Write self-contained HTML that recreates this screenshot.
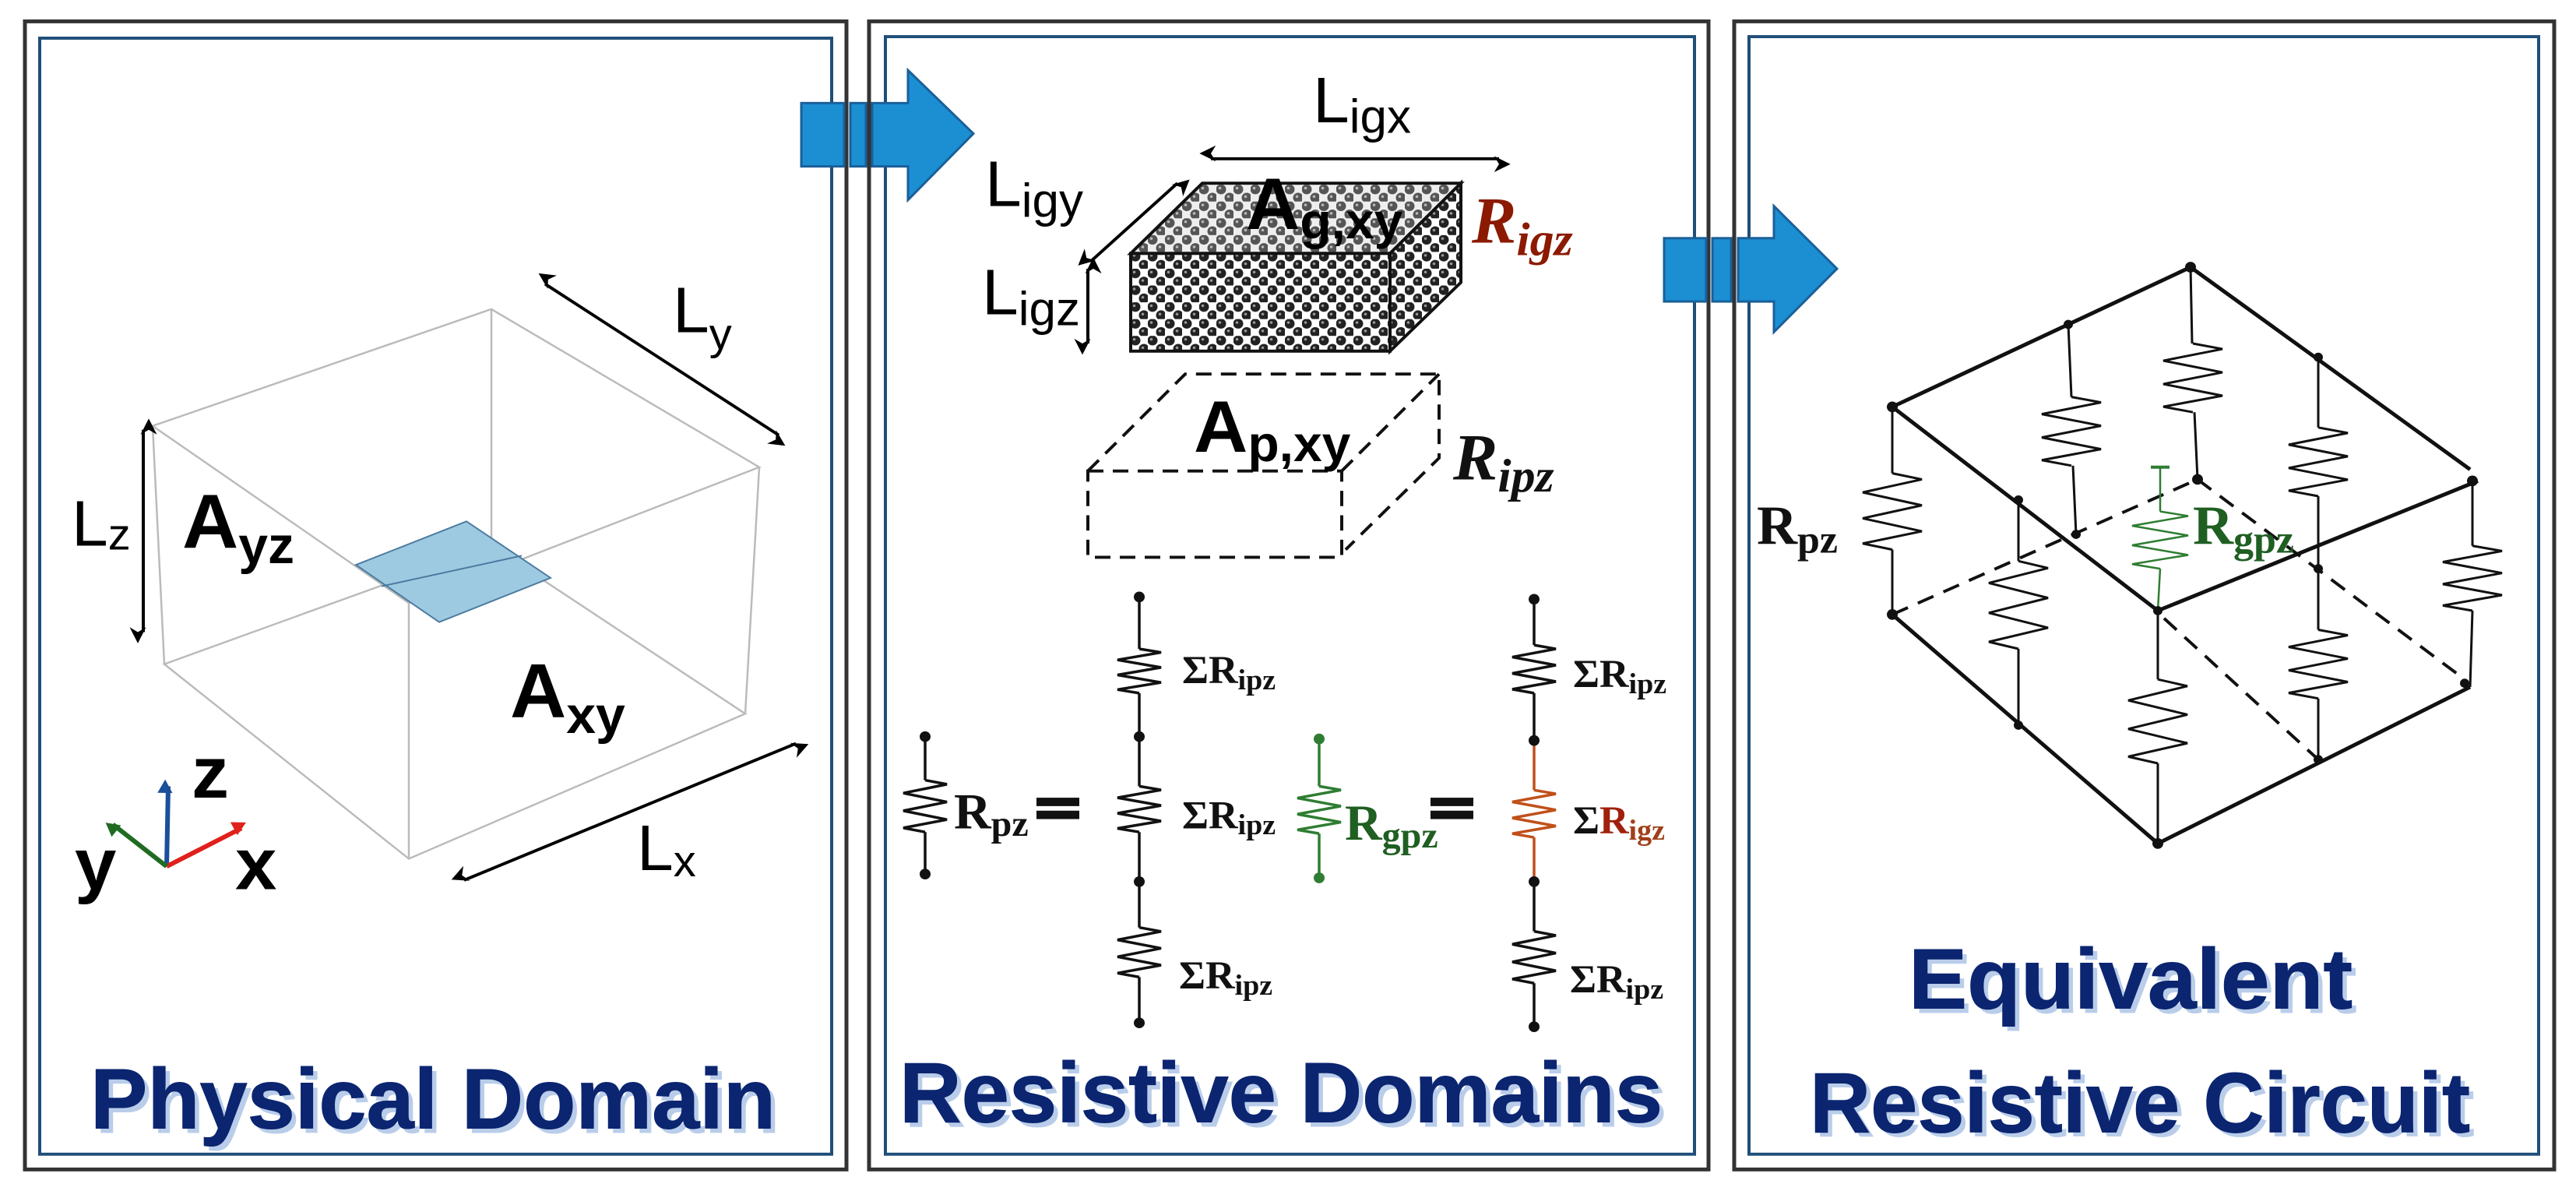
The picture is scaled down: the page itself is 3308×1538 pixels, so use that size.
<!DOCTYPE html>
<html><head><meta charset="utf-8"><style>
html,body{margin:0;padding:0;background:#fff}
svg{display:block}
.t{font-family:"Liberation Sans",sans-serif;font-weight:bold;fill:#0b2570;stroke:#0b2570;stroke-width:1}
.ts{font-family:"Liberation Sans",sans-serif;font-weight:bold;fill:#b9cdea}
.s{font-family:"Liberation Sans",sans-serif}
.sf{font-family:"Liberation Serif",serif;font-weight:bold}
</style></head><body>
<svg width="3308" height="1538" viewBox="0 0 3308 1538" xmlns="http://www.w3.org/2000/svg">
<defs>
<path id="zz" d="M0,0 L1,0.08 L-1,0.25 L1,0.42 L-1,0.59 L1,0.76 L-1,0.92 L0,1" fill="none" vector-effect="non-scaling-stroke"/>
<marker id="ah" viewBox="0 0 10 10" refX="9" refY="5" markerWidth="7" markerHeight="7" orient="auto-start-reverse" markerUnits="userSpaceOnUse" style="overflow:visible"><path d="M0,0 L10,5 L0,10 L3,5z" fill="#000" transform="scale(3)"/></marker>
<marker id="ab" viewBox="0 0 10 10" refX="5" refY="5" markerWidth="8" markerHeight="8" orient="auto" markerUnits="userSpaceOnUse" style="overflow:visible"><path d="M-6,-12 L16,0 L-6,12z" fill="#1a4f9a"/></marker>
<marker id="ar" viewBox="0 0 10 10" refX="5" refY="5" markerWidth="8" markerHeight="8" orient="auto" markerUnits="userSpaceOnUse" style="overflow:visible"><path d="M-6,-12 L16,0 L-6,12z" fill="#e0201b"/></marker>
<marker id="ag" viewBox="0 0 10 10" refX="5" refY="5" markerWidth="8" markerHeight="8" orient="auto" markerUnits="userSpaceOnUse" style="overflow:visible"><path d="M-6,-12 L16,0 L-6,12z" fill="#1f6b22"/></marker>
<pattern id="grav" width="22" height="22" patternUnits="userSpaceOnUse">
<rect width="22" height="22" fill="#fff"/>
<circle cx="6" cy="6" r="6.5" fill="#222"/><circle cx="17" cy="17" r="6.5" fill="#222"/>
<circle cx="4.5" cy="4.5" r="1.8" fill="#999"/><circle cx="15.5" cy="15.5" r="1.8" fill="#999"/>
</pattern>
<pattern id="grav2" width="22" height="22" patternUnits="userSpaceOnUse">
<rect width="22" height="22" fill="#eee"/>
<circle cx="6" cy="6" r="6.5" fill="#555"/><circle cx="17" cy="17" r="6.5" fill="#555"/>
<circle cx="4.5" cy="4.5" r="1.8" fill="#bbb"/><circle cx="15.5" cy="15.5" r="1.8" fill="#bbb"/>
</pattern>
</defs>
<g transform="scale(1,0.98)">
<!-- panels -->
<g fill="none">
<rect x="32" y="28" width="1055" height="1504" stroke="#333" stroke-width="5"/>
<rect x="51" y="50" width="1017" height="1462" stroke="#1f4e79" stroke-width="4"/>
<rect x="1116" y="28" width="1078" height="1504" stroke="#333" stroke-width="5"/>
<rect x="1137" y="48" width="1039" height="1464" stroke="#1f4e79" stroke-width="4"/>
<rect x="2227" y="28" width="1053" height="1504" stroke="#333" stroke-width="5"/>
<rect x="2246" y="48" width="1014" height="1464" stroke="#1f4e79" stroke-width="4"/>
</g>
<!-- block arrows -->
<g fill="#1b8fd2" stroke="#1a5f99" stroke-width="3">
<rect x="1029" y="135" width="55" height="83"/>
<rect x="1092" y="135" width="20" height="83"/>
<path d="M1120,135 L1166,135 L1166,92 L1250,175 L1166,262 L1166,218 L1120,218z"/>
<rect x="2137" y="312" width="54" height="83"/>
<rect x="2199" y="312" width="24" height="83"/>
<path d="M2232,312 L2278,312 L2278,270 L2359,352 L2278,435 L2278,395 L2232,395z"/>
</g>

<!-- PANEL 1 -->
<g stroke="#bbb" stroke-width="2.5" fill="none">
<path d="M196,558 L631,405 L975,612 L525,790 Z"/>
<path d="M211,870 L631,715 L957,935 L525,1125 Z"/>
<path d="M196,558 L211,870 M631,405 L631,715 M975,612 L957,935 M525,790 L525,1125"/>
</g>
<path d="M457,740 L599,683 L707,757 L564,815 Z" fill="#9ecae1" stroke="#4a7aa0" stroke-width="2"/>
<path d="M490,768 L670,728" stroke="#4a7aa0" stroke-width="2"/>
<g stroke="#000" stroke-width="4" fill="none" marker-start="url(#ah)" marker-end="url(#ah)">
<line x1="700" y1="372" x2="1000" y2="570"/>
<line x1="184" y1="563" x2="184" y2="828"/>
<line x1="596" y1="1153" x2="1022" y2="974"/>
</g>
<text class="s" x="864" y="435" font-size="84">L<tspan font-size="58" dy="22">y</tspan></text>
<text class="s" x="92" y="715" font-size="84">L<tspan font-size="58" dy="5">z</tspan></text>
<text class="s" x="234" y="718" font-size="100" font-weight="bold">A<tspan font-size="68" dy="20">yz</tspan></text>
<text class="s" x="655" y="940" font-size="100" font-weight="bold">A<tspan font-size="68" dy="20">xy</tspan></text>
<text class="s" x="818" y="1140" font-size="84">L<tspan font-size="58" dy="8">x</tspan></text>
<g stroke-width="6" fill="none">
<line x1="214" y1="1135" x2="216" y2="1030" stroke="#1a4f9a" marker-end="url(#ab)"/>
<line x1="214" y1="1135" x2="310" y2="1085" stroke="#e0201b" marker-end="url(#ar)"/>
<line x1="214" y1="1135" x2="145" y2="1080" stroke="#1f6b22" marker-end="url(#ag)"/>
</g>
<text class="s" x="246" y="1045" font-size="96" font-weight="bold">z</text>
<text class="s" x="302" y="1165" font-size="96" font-weight="bold">x</text>
<text class="s" x="96" y="1165" font-size="96" font-weight="bold">y</text>
<text class="ts" x="122" y="1484" font-size="112" textLength="880" lengthAdjust="spacingAndGlyphs">Physical Domain</text>
<text class="t" x="116" y="1478" font-size="112" textLength="880" lengthAdjust="spacingAndGlyphs">Physical Domain</text>

<!-- PANEL 2 -->
<line x1="1555" y1="208" x2="1925" y2="208" stroke="#000" stroke-width="4" marker-start="url(#ah)" marker-end="url(#ah)"/>
<line x1="1400" y1="343" x2="1512" y2="240" stroke="#000" stroke-width="4" marker-start="url(#ah)" marker-end="url(#ah)"/>
<line x1="1397" y1="352" x2="1397" y2="450" stroke="#000" stroke-width="4" marker-start="url(#ah)" marker-end="url(#ah)"/>
<text class="s" x="1686" y="160" font-size="84">L<tspan font-size="62" dy="14">igx</tspan></text>
<text class="s" x="1265" y="270" font-size="84">L<tspan font-size="62" dy="14">igy</tspan></text>
<text class="s" x="1261" y="412" font-size="84">L<tspan font-size="62" dy="14">igz</tspan></text>
<path d="M1452,332 L1544,240 L1876,240 L1785,332 Z" fill="url(#grav2)" stroke="#111" stroke-width="4"/>
<path d="M1785,332 L1876,240 L1876,370 L1785,460 Z" fill="url(#grav)" stroke="#111" stroke-width="4"/>
<rect x="1452" y="332" width="333" height="128" fill="url(#grav)" stroke="#111" stroke-width="4"/>
<text class="s" x="1600" y="300" font-size="96" font-weight="bold">A<tspan font-size="66" dy="12">g,xy</tspan></text>
<text class="sf" x="1890" y="318" font-size="86" font-style="italic" fill="#8b1a00">R<tspan font-size="62" dy="16">igz</tspan></text>
<g stroke="#111" stroke-width="4" fill="none" stroke-dasharray="20,12">
<path d="M1397,617 L1522,490 L1848,490 L1848,600 L1728,720"/>
<rect x="1397" y="617" width="326" height="113"/>
<path d="M1723,617 L1848,490"/>
</g>
<text class="s" x="1533" y="592" font-size="96" font-weight="bold">A<tspan font-size="66" dy="12">p,xy</tspan></text>
<text class="sf" x="1866" y="628" font-size="86" font-style="italic" fill="#111">R<tspan font-size="62" dy="16">ipz</tspan></text>

<g stroke="#111" stroke-width="3.5" fill="none">
<!-- Rpz -->
<line x1="1188" y1="965" x2="1188" y2="1022"/><use href="#zz" transform="translate(1188,1022) scale(28,68)"/><line x1="1188" y1="1090" x2="1188" y2="1145"/>
<!-- col1 -->
<line x1="1463" y1="782" x2="1463" y2="850"/><use href="#zz" transform="translate(1463,850) scale(28,58)"/><line x1="1463" y1="908" x2="1463" y2="1030"/>
<use href="#zz" transform="translate(1463,1030) scale(28,60)"/><line x1="1463" y1="1090" x2="1463" y2="1215"/>
<use href="#zz" transform="translate(1463,1215) scale(28,65)"/><line x1="1463" y1="1280" x2="1463" y2="1340"/>
<!-- col2 -->
<line x1="1970" y1="785" x2="1970" y2="845"/><use href="#zz" transform="translate(1970,845) scale(28,63)"/><line x1="1970" y1="908" x2="1970" y2="970"/>
<line x1="1970" y1="1155" x2="1970" y2="1220"/><use href="#zz" transform="translate(1970,1220) scale(28,68)"/><line x1="1970" y1="1288" x2="1970" y2="1345"/>
</g>
<g stroke="#2e7d32" stroke-width="3.5" fill="none">
<line x1="1694" y1="968" x2="1694" y2="1030"/><use href="#zz" transform="translate(1694,1030) scale(28,62)"/><line x1="1694" y1="1092" x2="1694" y2="1150"/>
</g>
<g stroke="#c0501a" stroke-width="3.5" fill="none">
<line x1="1970" y1="970" x2="1970" y2="1035"/><use href="#zz" transform="translate(1970,1035) scale(28,62)"/><line x1="1970" y1="1097" x2="1970" y2="1155"/>
</g>
<g fill="#111">
<circle cx="1188" cy="965" r="7"/><circle cx="1188" cy="1145" r="7"/>
<circle cx="1463" cy="782" r="7"/><circle cx="1463" cy="965" r="7"/><circle cx="1463" cy="1155" r="7"/><circle cx="1463" cy="1340" r="7"/>
<circle cx="1970" cy="785" r="7"/><circle cx="1970" cy="970" r="7"/><circle cx="1970" cy="1155" r="7"/><circle cx="1970" cy="1345" r="7"/>
<circle cx="1694" cy="968" r="7" fill="#2e7d32"/><circle cx="1694" cy="1150" r="7" fill="#2e7d32"/>
</g>
<rect x="1331" y="1045" width="55" height="11" fill="#111"/><rect x="1331" y="1062" width="55" height="11" fill="#111"/>
<rect x="1837" y="1045" width="55" height="11" fill="#111"/><rect x="1837" y="1062" width="55" height="11" fill="#111"/>
<text class="sf" x="1225" y="1085" font-size="66" fill="#111">R<tspan font-size="48" dy="10">pz</tspan></text>
<text class="sf" x="1727" y="1100" font-size="66" fill="#1f5f22">R<tspan font-size="48" dy="10">gpz</tspan></text>
<text class="sf" x="1518" y="895" font-size="52" fill="#111">ΣR<tspan font-size="38" dy="8">ipz</tspan></text>
<text class="sf" x="1518" y="1085" font-size="52" fill="#111">ΣR<tspan font-size="38" dy="8">ipz</tspan></text>
<text class="sf" x="1514" y="1295" font-size="52" fill="#111">ΣR<tspan font-size="38" dy="8">ipz</tspan></text>
<text class="sf" x="2020" y="900" font-size="52" fill="#111">ΣR<tspan font-size="38" dy="8">ipz</tspan></text>
<text class="sf" x="2020" y="1092" font-size="52" fill="#111">Σ<tspan fill="#a0200a">R</tspan><tspan font-size="38" dy="8" fill="#a0401a">igz</tspan></text>
<text class="sf" x="2016" y="1300" font-size="52" fill="#111">ΣR<tspan font-size="38" dy="8">ipz</tspan></text>
<text class="ts" x="1161" y="1476" font-size="112" textLength="980" lengthAdjust="spacingAndGlyphs">Resistive Domains</text>
<text class="t" x="1155" y="1470" font-size="112" textLength="980" lengthAdjust="spacingAndGlyphs">Resistive Domains</text>

<!-- PANEL 3 -->
<g stroke="#111" stroke-width="5" fill="none">
<path d="M2430,533 L2813,350 L3172,615"/>
<path d="M2430,533 L2771,800 L3182,630"/>
<path d="M2430,805 L2771,1105 L3172,900"/>
</g>
<g stroke="#111" stroke-width="4" fill="none" stroke-dasharray="22,14">
<path d="M2430,805 L2822,628"/>
<path d="M2822,628 L3165,890"/>
<path d="M2779,810 L2977,995"/>
</g>
<g stroke="#111" stroke-width="3" fill="none">
<line x1="2430" y1="533" x2="2430" y2="620"/><use href="#zz" transform="translate(2430,620) scale(38,100)"/><line x1="2430" y1="720" x2="2430" y2="805"/>
<line x1="2656" y1="425" x2="2660" y2="520"/><use href="#zz" transform="translate(2660,520) scale(38,90)"/><line x1="2662" y1="610" x2="2666" y2="700"/>
<line x1="2813" y1="350" x2="2815" y2="450"/><use href="#zz" transform="translate(2816,450) scale(38,90)"/><line x1="2818" y1="540" x2="2822" y2="628"/>
<line x1="2977" y1="468" x2="2977" y2="560"/><use href="#zz" transform="translate(2977,560) scale(38,90)"/><line x1="2977" y1="650" x2="2977" y2="745"/>
<line x1="3175" y1="630" x2="3175" y2="715"/><use href="#zz" transform="translate(3175,715) scale(38,85)"/><line x1="3175" y1="800" x2="3172" y2="900"/>
<line x1="2592" y1="655" x2="2592" y2="735"/><use href="#zz" transform="translate(2592,735) scale(38,115)"/><line x1="2592" y1="850" x2="2592" y2="950"/>
<line x1="2771" y1="800" x2="2771" y2="890"/><use href="#zz" transform="translate(2771,890) scale(38,110)"/><line x1="2771" y1="1000" x2="2771" y2="1105"/>
<line x1="2977" y1="745" x2="2977" y2="825"/><use href="#zz" transform="translate(2977,825) scale(38,90)"/><line x1="2977" y1="915" x2="2977" y2="995"/>
</g>
<g stroke="#2e7d32" stroke-width="2.5" fill="none">
<line x1="2774" y1="612" x2="2774" y2="670"/><use href="#zz" transform="translate(2774,670) scale(36,75)"/><line x1="2774" y1="745" x2="2771" y2="800"/>
<line x1="2762" y1="612" x2="2786" y2="612" stroke-width="4"/>
</g>
<g fill="#111">
<circle cx="2430" cy="533" r="7"/><circle cx="2813" cy="350" r="7"/><circle cx="2656" cy="425" r="6"/><circle cx="2977" cy="468" r="6"/>
<circle cx="3175" cy="630" r="7"/><circle cx="2822" cy="628" r="7"/><circle cx="2592" cy="655" r="6"/><circle cx="2666" cy="700" r="6"/>
<circle cx="2977" cy="745" r="6"/><circle cx="2430" cy="805" r="7"/><circle cx="2592" cy="950" r="6"/><circle cx="2771" cy="1105" r="7"/>
<circle cx="2977" cy="995" r="6"/><circle cx="3165" cy="895" r="6"/><circle cx="2771" cy="800" r="6"/>
</g>
<text class="sf" x="2256" y="712" font-size="72" fill="#111">R<tspan font-size="52" dy="12">pz</tspan></text>
<text class="sf" x="2816" y="712" font-size="72" fill="#1f5f22" font-weight="normal">R<tspan font-size="52" dy="12">gpz</tspan></text>
<text class="ts" x="2457" y="1327" font-size="112" textLength="570" lengthAdjust="spacingAndGlyphs">Equivalent</text>
<text class="t" x="2451" y="1321" font-size="112" textLength="570" lengthAdjust="spacingAndGlyphs">Equivalent</text>
<text class="ts" x="2330" y="1489" font-size="112" textLength="848" lengthAdjust="spacingAndGlyphs">Resistive Circuit</text>
<text class="t" x="2324" y="1483" font-size="112" textLength="848" lengthAdjust="spacingAndGlyphs">Resistive Circuit</text>
</g>
</svg>
</body></html>
